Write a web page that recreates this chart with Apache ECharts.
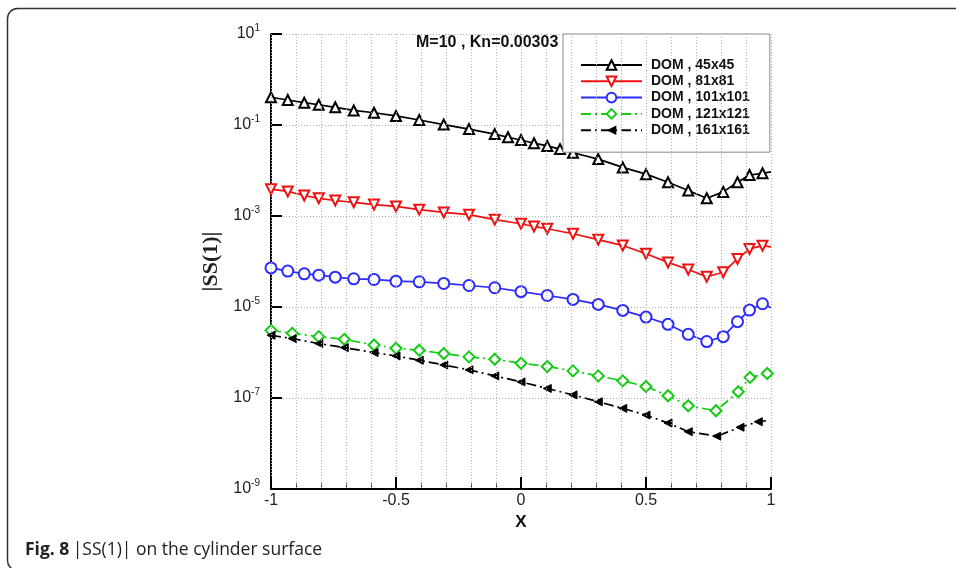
<!DOCTYPE html>
<html><head><meta charset="utf-8">
<script src="https://cdn.jsdelivr.net/npm/echarts@6/dist/echarts.min.js"></script>
<style>html,body{margin:0;padding:0;background:#fff}#c{width:956px;height:568px}</style>
</head><body><div id="c"></div>
<script>
// ---- data ----
const seriesNames = ['DOM , 45x45', 'DOM , 81x81', 'DOM , 101x101', 'DOM , 121x121', 'DOM , 161x161'];
const xTicks = [-1, -0.5, 0, 0.5, 1];
const yTicks = [1e-9, 1e-7, 1e-5, 1e-3, 1e-1, 10];

const x45 = [-1, -0.933, -0.867, -0.809, -0.743, -0.669, -0.588, -0.5, -0.407, -0.309, -0.208, -0.105, -0.052, 0, 0.052, 0.105, 0.156, 0.208, 0.309, 0.407, 0.5, 0.588, 0.669, 0.743, 0.809, 0.866, 0.914, 0.966, 1];
const y45 = [0.407, 0.355, 0.309, 0.279, 0.245, 0.209, 0.186, 0.158, 0.129, 0.102, 0.0813, 0.0631, 0.0537, 0.0468, 0.0398, 0.0347, 0.0295, 0.0245, 0.0178, 0.0117, 0.00832, 0.0055, 0.00363, 0.00245, 0.00339, 0.0055, 0.00794, 0.00871, 0.00933];

const x81 = [-1, -0.933, -0.867, -0.809, -0.743, -0.669, -0.588, -0.5, -0.407, -0.309, -0.208, -0.105, 0, 0.052, 0.105, 0.208, 0.309, 0.407, 0.5, 0.588, 0.669, 0.743, 0.809, 0.866, 0.914, 0.966, 1];
const y81 = [0.00389, 0.00347, 0.00282, 0.00245, 0.00219, 0.0020, 0.00178, 0.00162, 0.00138, 0.0012, 0.00107, 0.000832, 0.000676, 0.000589, 0.000525, 0.000407, 0.000302, 0.000224, 0.000148, 0.0000955, 0.0000667, 0.0000461, 0.0000582, 0.000114, 0.000189, 0.000223, 0.000209];

const x101 = [-1, -0.933, -0.867, -0.809, -0.743, -0.669, -0.588, -0.5, -0.407, -0.309, -0.208, -0.105, 0, 0.105, 0.208, 0.309, 0.407, 0.5, 0.588, 0.669, 0.743, 0.809, 0.866, 0.914, 0.966, 1];
const y101 = [7.24e-5, 6.17e-5, 5.37e-5, 5.01e-5, 4.52e-5, 4.17e-5, 4.03e-5, 3.69e-5, 3.58e-5, 3.29e-5, 2.97e-5, 2.65e-5, 2.17e-5, 1.79e-5, 1.47e-5, 1.14e-5, 8.41e-6, 6.01e-6, 4.16e-6, 2.51e-6, 1.74e-6, 2.23e-6, 4.76e-6, 8.55e-6, 1.18e-5, 9.66e-6];

const x121 = [-1, -0.915, -0.809, -0.707, -0.588, -0.5, -0.407, -0.309, -0.208, -0.105, 0, 0.105, 0.208, 0.309, 0.407, 0.5, 0.588, 0.669, 0.78, 0.869, 0.916, 0.985];
const y121 = [3.07e-6, 2.64e-6, 2.23e-6, 1.95e-6, 1.46e-6, 1.24e-6, 1.12e-6, 9.48e-7, 8.0e-7, 7.11e-7, 5.81e-7, 4.92e-7, 3.94e-7, 3.06e-7, 2.38e-7, 1.79e-7, 1.12e-7, 6.75e-8, 5.24e-8, 1.37e-7, 2.83e-7, 3.46e-7];

const x161 = [-1, -0.915, -0.809, -0.707, -0.588, -0.5, -0.407, -0.309, -0.208, -0.105, 0, 0.105, 0.208, 0.309, 0.407, 0.5, 0.588, 0.669, 0.783, 0.876, 0.949, 0.98];
const y161 = [2.39e-6, 2.02e-6, 1.57e-6, 1.28e-6, 9.98e-7, 8.39e-7, 6.76e-7, 5.33e-7, 4.15e-7, 3.06e-7, 2.26e-7, 1.62e-7, 1.17e-7, 8.26e-8, 5.92e-8, 4.22e-8, 2.82e-8, 1.82e-8, 1.45e-8, 2.27e-8, 3.01e-8, 3.16e-8];

// ---- build ----
function pairs(xs, ys, lastPlain) {
  return xs.map((x, i) => (lastPlain && i === xs.length - 1)
    ? { value: [x, ys[i]], symbol: 'none' }
    : [x, ys[i]]);
}
const dashDot = [10, 4, 2, 4];
function mk(name, xs, ys, lastPlain, color, symbol, size, rot, lineType, filled) {
  return {
    name, type: 'line', data: pairs(xs, ys, lastPlain),
    symbol, symbolSize: size, symbolRotate: rot, showSymbol: true,
    color,
    lineStyle: { color, width: 1.7, type: lineType },
    itemStyle: filled ? { color, borderColor: color } : { color: color, borderColor: color, borderWidth: 1.4 },
    z: 3
  };
}

const chart = echarts.init(document.getElementById('c'), null, { renderer: 'canvas' });
const dotted = { type: [1, 2], color: '#b0b0b0', width: 1 };
const option = {
  animation: false,
  backgroundColor: '#fff',
  grid: { left: 271, right: 185, top: 34, bottom: 79 },
  xAxis: [{
    type: 'value', min: -1, max: 1, interval: 0.5, position: 'bottom',
    name: 'X', nameLocation: 'middle', nameGap: 22,
    nameTextStyle: { fontFamily: 'Arial', fontWeight: 'bold', fontSize: 17, color: '#111' },
    axisLine: { onZero: false, lineStyle: { color: '#000', width: 2 } },
    axisTick: { inside: true, length: 12, lineStyle: { color: '#000', width: 2 } },
    splitLine: { show: true, lineStyle: dotted },
    minorTick: { show: false, splitNumber: 5 },
    minorSplitLine: { show: true, lineStyle: dotted },
    axisLabel: {
      margin: 4, fontFamily: 'Arial', fontSize: 16, color: '#222',
      formatter: v => String(v)
    },
    z: 5
  }, {
    // minor tick marks every 0.1
    type: 'value', min: -1, max: 1, interval: 0.1, position: 'bottom', offset: 0,
    axisLine: { show: false, onZero: false },
    axisTick: { show: true, inside: true, length: 6, lineStyle: { color: '#333', width: 1 } },
    axisLabel: { show: false },
    splitLine: { show: false },
    z: 4
  }],
  yAxis: {
    type: 'log', logBase: 10, min: 1e-9, max: 10,
    name: '|SS(1)|', nameLocation: 'middle', nameGap: 49,
    nameTextStyle: { fontFamily: 'Liberation Serif', fontWeight: 'bold', fontSize: 22, color: '#222' },
    axisLine: { onZero: false, lineStyle: { color: '#000', width: 2 } },
    axisTick: { inside: true, length: 11, customValues: yTicks, lineStyle: { color: '#000', width: 2 } },
    splitLine: { show: true, customValues: yTicks, lineStyle: dotted },
    axisLabel: {
      margin: 11, customValues: yTicks,
      formatter: v => '{b|10}{e|' + Math.round(Math.log10(v)) + '}',
      rich: {
        b: { fontFamily: 'Arial', fontSize: 16, color: '#222', lineHeight: 22 },
        e: { fontFamily: 'Arial', fontSize: 10, color: '#222', lineHeight: 12, verticalAlign: 'top' }
      }
    }
  },
  legend: {
    orient: 'vertical', left: 563, top: 34,
    itemWidth: 61, itemHeight: 12, itemGap: 2.3,
    padding: [24, 20, 15, 17],
    backgroundColor: '#fff', borderColor: '#888', borderWidth: 1,
    textStyle: { fontFamily: 'Arial', fontWeight: 'bold', fontSize: 14, color: '#111', padding: [0, 0, 0, 4] },
    data: seriesNames
  },
  graphic: [
    { type: 'rect', left: 5, top: 6, silent: true, z: 0,
      shape: { x: 0, y: 0, width: 1100, height: 562, r: 10 },
      style: { fill: 'none', stroke: '#333', lineWidth: 1.5 } },
    { type: 'text', left: 416, top: 35, z: 10,
      style: { text: 'M=10 , Kn=0.00303', font: 'bold 16px Arial', fill: '#111' } },
    { type: 'text', left: 25, top: 541, z: 10,
      style: {
        text: '{a|Fig. 8} {b||SS(1)| on the cylinder surface}',
        rich: {
          a: { fontFamily: 'Open Sans', fontWeight: 'bold', fontSize: 17.5, fill: '#222' },
          b: { fontFamily: 'Open Sans', fontSize: 17.5, fill: '#222' }
        }
      } }
  ],
  series: [
    mk(seriesNames[0], x45, y45, true, '#000000', 'emptyTriangle', 10, 0, 'solid', false),
    mk(seriesNames[1], x81, y81, true, '#ee1111', 'emptyTriangle', 10, 180, 'solid', false),
    mk(seriesNames[2], x101, y101, true, '#2b2bff', 'emptyCircle', 11, 0, 'solid', false),
    mk(seriesNames[3], x121, y121, false, '#14cc14', 'emptyDiamond', 11, 0, dashDot, false),
    mk(seriesNames[4], x161, y161, true, '#000000', 'triangle', 8, 90, dashDot, true)
  ]
};
chart.setOption(option);
</script></body></html>
